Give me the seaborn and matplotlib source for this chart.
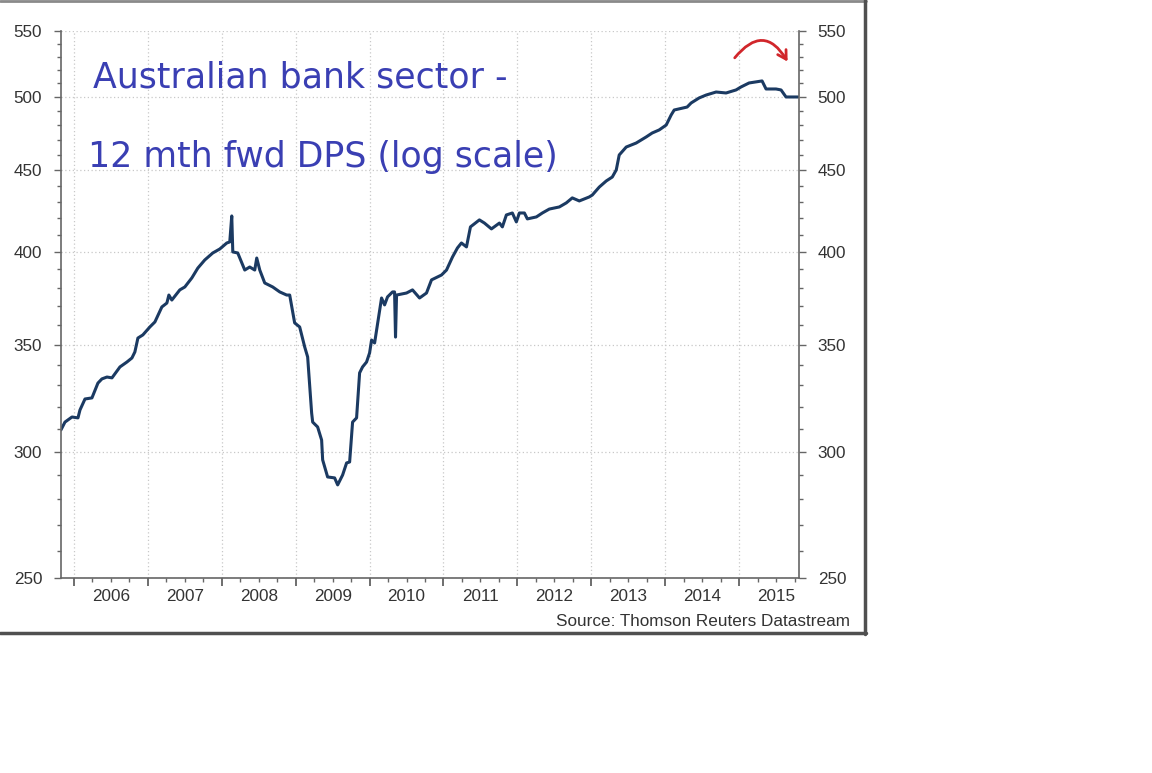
import numpy as np
import pandas as pd
import matplotlib
matplotlib.use("Agg")
import matplotlib.pyplot as plt
import seaborn as sns
from matplotlib.ticker import FixedLocator, NullFormatter, FixedFormatter
from matplotlib.patches import FancyArrowPatch
from matplotlib.lines import Line2D

# ---- data (decimal year, 12mth fwd DPS) ----
years_dec = [
    2005.824, 2005.878, 2005.973, 2006.054, 2006.081, 2006.149, 2006.243, 2006.324,
    2006.378, 2006.446, 2006.514, 2006.622, 2006.716, 2006.784, 2006.824, 2006.865,
    2006.932, 2007.027, 2007.095, 2007.189, 2007.257, 2007.284, 2007.324, 2007.432,
    2007.500, 2007.595, 2007.676, 2007.770, 2007.878, 2007.973, 2008.068, 2008.108,
    2008.135, 2008.149, 2008.216, 2008.311, 2008.378, 2008.446, 2008.473, 2008.514,
    2008.581, 2008.689, 2008.784, 2008.878, 2008.919, 2008.986, 2009.054, 2009.122,
    2009.162, 2009.216, 2009.230, 2009.297, 2009.351, 2009.365, 2009.432, 2009.527,
    2009.568, 2009.635, 2009.689, 2009.730, 2009.770, 2009.824, 2009.865, 2009.905,
    2009.959, 2010.000, 2010.027, 2010.068, 2010.162, 2010.203, 2010.243, 2010.311,
    2010.338, 2010.351, 2010.365, 2010.500, 2010.581, 2010.676, 2010.770, 2010.838,
    2010.973, 2011.041, 2011.122, 2011.189, 2011.243, 2011.311, 2011.365, 2011.486,
    2011.554, 2011.649, 2011.757, 2011.797, 2011.851, 2011.932, 2011.986, 2012.027,
    2012.095, 2012.135, 2012.257, 2012.338, 2012.432, 2012.568, 2012.662, 2012.743,
    2012.838, 2012.973, 2013.014, 2013.108, 2013.203, 2013.284, 2013.338, 2013.378,
    2013.473, 2013.608, 2013.743, 2013.824, 2013.919, 2014.014, 2014.081, 2014.122,
    2014.297, 2014.351, 2014.459, 2014.554, 2014.689, 2014.824, 2014.959, 2015.027,
    2015.135, 2015.311, 2015.365, 2015.500, 2015.568, 2015.635, 2015.797,
]
dps_values = [
    309.5, 313.0, 315.3, 314.9, 318.5, 323.6, 324.1, 331.1,
    333.1, 334.0, 333.6, 338.9, 341.3, 343.3, 346.3, 353.3,
    354.9, 359.0, 361.6, 369.5, 371.6, 375.9, 373.2, 378.7,
    380.3, 385.3, 390.8, 395.4, 399.4, 401.7, 405.2, 405.8,
    421.3, 400.0, 399.4, 389.7, 391.4, 389.7, 396.5, 389.7,
    382.5, 380.3, 377.6, 375.9, 375.9, 361.1, 359.0, 348.8,
    343.8, 317.1, 313.0, 310.8, 305.0, 296.4, 289.2, 288.8,
    285.9, 290.0, 295.1, 295.5, 313.0, 314.9, 336.0, 338.9,
    341.3, 345.8, 352.3, 350.8, 374.3, 370.6, 374.9, 377.6,
    377.6, 353.8, 375.9, 377.0, 378.7, 374.3, 377.0, 384.2,
    386.9, 389.7, 397.1, 402.3, 405.2, 402.9, 414.7, 418.9,
    417.0, 413.5, 417.0, 414.7, 421.9, 423.1, 417.7, 423.1,
    423.1, 419.5, 420.7, 423.1, 425.5, 426.8, 429.3, 432.4,
    430.5, 433.0, 434.2, 439.2, 443.1, 445.6, 450.2, 460.0,
    465.3, 468.0, 472.1, 474.8, 476.9, 480.3, 487.3, 490.8,
    492.9, 495.8, 499.4, 501.5, 503.7, 503.0, 505.2, 507.4,
    510.3, 511.8, 505.9, 505.9, 505.2, 500.1, 500.1,
]
year_labels = ["2006", "2007", "2008", "2009", "2010",
               "2011", "2012", "2013", "2014", "2015"]
y_major = [250, 300, 350, 400, 450, 500, 550]

df = pd.DataFrame({"t": years_dec, "dps": dps_values})

sns.set_style("white")
plt.rcParams["font.family"] = ["Liberation Sans", "DejaVu Sans"]

W, H = 1152, 773
fig = plt.figure(figsize=(W / 100, H / 100), dpi=100)
fig.patch.set_facecolor("white")

ax = fig.add_axes([61 / W, 1 - 578 / H, (799 - 61) / W, (578 - 31) / H])
sns.lineplot(data=df, x="t", y="dps", ax=ax, color="#1b3a62", linewidth=2.2)

ax.set_yscale("log")
ax.set_ylim(250, 550)
ax.set_xlim(2006 - 13 / 74, 2015 + 60 / 74)

# y ticks
minor_y = [v for v in range(260, 550, 10) if v not in y_major]
ax.yaxis.set_major_locator(FixedLocator(y_major))
ax.yaxis.set_major_formatter(FixedFormatter([str(v) for v in y_major]))
ax.yaxis.set_minor_locator(FixedLocator(minor_y))
ax.yaxis.set_minor_formatter(NullFormatter())

# x ticks: year boundaries, quarterly minors, labels mid-year
year_starts = [int(l) for l in year_labels]
ax.xaxis.set_major_locator(FixedLocator(year_starts))
ax.xaxis.set_major_formatter(NullFormatter())
minor_x = [y + q for y in range(2005, 2016) for q in (0.25, 0.5, 0.75)]
ax.xaxis.set_minor_locator(FixedLocator(minor_x))
ax.xaxis.set_minor_formatter(NullFormatter())
for lab, ys in zip(year_labels, year_starts):
    ax.text(ys + 0.5, -0.034, lab, transform=ax.get_xaxis_transform(),
            ha="center", va="center", fontsize=12.3, color="#333333")

ax.tick_params(axis="y", which="major", direction="out", length=5, width=1,
               color="#666666", labelsize=12.3, labelcolor="#333333", pad=8.5,
               left=True, right=True, labelleft=True, labelright=True)
ax.tick_params(axis="y", which="minor", direction="out", length=3, width=1,
               color="#666666", left=True, right=True)
ax.tick_params(axis="x", which="major", direction="out", length=6, width=1.2,
               color="#555555", bottom=True)
ax.tick_params(axis="x", which="minor", direction="out", length=3, width=1,
               color="#666666", bottom=True)

ax.grid(True, which="major", axis="both", linestyle=(0, (1, 2)),
        color="#c8c8c8", linewidth=0.9)
ax.set_axisbelow(True)

for side in ["left", "right", "bottom"]:
    ax.spines[side].set_visible(True)
    ax.spines[side].set_color("#666666")
    ax.spines[side].set_linewidth(1.2)
ax.spines["top"].set_visible(False)
ax.set_xlabel("")
ax.set_ylabel("")

# source
fig.text(850 / W, 1 - 622 / H, "Source: Thomson Reuters Datastream",
         ha="right", va="center", fontsize=12.3, color="#333333")

# handwritten-style annotation
fig.text(93 / W, 1 - 78 / H, "Australian bank sector -", ha="left",
         va="center", fontsize=25, color="#3a3fb3", family=["DejaVu Sans"])
fig.text(88 / W, 1 - 157 / H, "12 mth fwd DPS (log scale)", ha="left",
         va="center", fontsize=25, color="#3a3fb3", family=["DejaVu Sans"])

# red curved arrow
arrow = FancyArrowPatch((733 / W, 1 - 60 / H), (789 / W, 1 - 64 / H),
                        transform=fig.transFigure,
                        connectionstyle="arc3,rad=-0.75",
                        arrowstyle="->,head_length=6,head_width=3.5",
                        color="#d1262b", linewidth=2)
fig.add_artist(arrow)

# panel border
fig.add_artist(Line2D([0, 866 / W], [1 - 1 / H, 1 - 1 / H],
                      transform=fig.transFigure, color="#8a8a8a", linewidth=2))
fig.add_artist(Line2D([864.5 / W, 864.5 / W], [1, 1 - 634 / H],
                      transform=fig.transFigure, color="#505050", linewidth=2.5))
fig.add_artist(Line2D([0, 866 / W], [1 - 632.5 / H, 1 - 632.5 / H],
                      transform=fig.transFigure, color="#505050", linewidth=2.5))

fig.savefig("out.png", dpi=100, facecolor="white")
